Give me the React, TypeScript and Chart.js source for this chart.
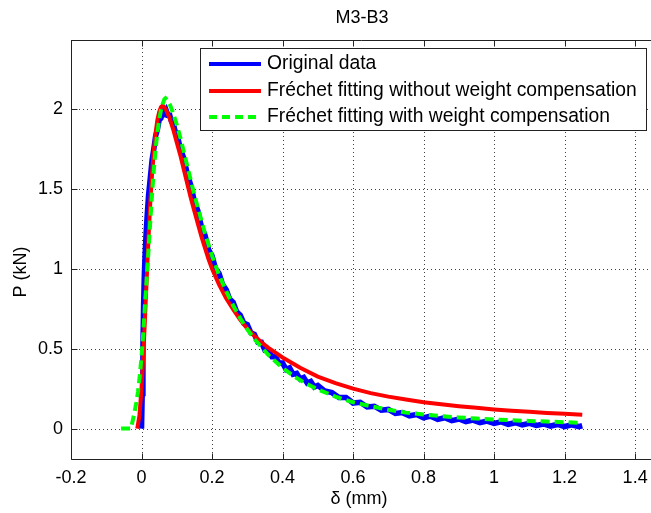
import React, { useEffect, useRef } from "react";
import { Chart, registerables } from "chart.js";

Chart.register(...registerables);

const chartTitle = "M3-B3";
const xAxisLabel = "δ (mm)";
const yAxisLabel = "P (kN)";
const xTickValues = [-0.2, 0, 0.2, 0.4, 0.6, 0.8, 1, 1.2, 1.4];
const yTickValues = [0, 0.5, 1, 1.5, 2];
const legendLabels = [
  "Original data",
  "Fréchet fitting without weight compensation",
  "Fréchet fitting with weight compensation",
];

// Original data (noisy measurement)
const blueX = [
  0.0, 0.002, 0.004, 0.006, 0.008, 0.01, 0.013, 0.016, 0.02, 0.025, 0.03, 0.035, 0.04, 0.045, 0.05,
  0.055, 0.06, 0.065, 0.07, 0.075, 0.08, 0.085, 0.09, 0.095, 0.1, 0.11, 0.12, 0.13, 0.14, 0.15,
  0.16, 0.17, 0.18, 0.19, 0.2, 0.21, 0.22, 0.23, 0.24, 0.25, 0.26, 0.27, 0.28, 0.29, 0.3,
  0.31, 0.32, 0.33, 0.34, 0.35, 0.36, 0.37, 0.38, 0.39, 0.4, 0.41, 0.42, 0.43, 0.44, 0.45,
  0.46, 0.47, 0.48, 0.49, 0.5, 0.52, 0.54, 0.56, 0.58, 0.6, 0.62, 0.64, 0.66, 0.68, 0.7,
  0.72, 0.74, 0.76, 0.78, 0.8, 0.82, 0.84, 0.86, 0.88, 0.9, 0.92, 0.94, 0.96, 0.98, 1.0,
  1.02, 1.04, 1.06, 1.08, 1.1, 1.12, 1.14, 1.16, 1.18, 1.2, 1.22, 1.24, 1.25,
];
const blueY = [
  0.0, 0.22, 0.52, 0.78, 0.96, 1.08, 1.22, 1.33, 1.46, 1.57, 1.68, 1.75, 1.83, 1.87, 1.93,
  1.94, 1.98, 1.97, 1.99, 1.96, 1.96, 1.92, 1.91, 1.86, 1.85, 1.75, 1.69, 1.59, 1.52, 1.42,
  1.36, 1.26, 1.21, 1.12, 1.08, 1.0, 0.97, 0.9, 0.87, 0.81, 0.79, 0.73, 0.71, 0.66, 0.65,
  0.6, 0.59, 0.54, 0.54, 0.49, 0.49, 0.45, 0.45, 0.41, 0.41, 0.37, 0.38, 0.34, 0.345, 0.31,
  0.32, 0.285, 0.295, 0.26, 0.27, 0.235, 0.225, 0.195, 0.195, 0.16, 0.165, 0.135, 0.14, 0.115, 0.12,
  0.095, 0.1, 0.08, 0.088, 0.068, 0.078, 0.058, 0.068, 0.05, 0.06, 0.043, 0.053, 0.037, 0.047, 0.032,
  0.042, 0.027, 0.037, 0.023, 0.033, 0.02, 0.029, 0.016, 0.026, 0.013, 0.023, 0.012, 0.018,
];

// Fréchet fitting without weight compensation
const redX = [
  -0.012, -0.006, 0.0, 0.005, 0.01, 0.015, 0.02, 0.025, 0.03, 0.035, 0.04, 0.045, 0.05, 0.055, 0.06,
  0.065, 0.07, 0.08, 0.09, 0.1, 0.11, 0.12, 0.13, 0.14, 0.15, 0.16, 0.17, 0.18, 0.19, 0.2,
  0.22, 0.24, 0.26, 0.28, 0.3, 0.32, 0.34, 0.36, 0.38, 0.4, 0.45, 0.5, 0.55, 0.6, 0.65,
  0.7, 0.75, 0.8, 0.85, 0.9, 0.95, 1.0, 1.05, 1.1, 1.15, 1.2, 1.25,
];
const redY = [
  0.0, 0.08, 0.25, 0.45, 0.7, 0.95, 1.2, 1.42, 1.6, 1.74, 1.85, 1.93, 1.98, 2.01, 2.02,
  2.01, 1.99, 1.94, 1.87, 1.79, 1.71, 1.62, 1.53, 1.44, 1.36, 1.28, 1.2, 1.13, 1.06, 1.0,
  0.9, 0.815, 0.745, 0.68, 0.625, 0.58, 0.54, 0.505, 0.475, 0.445, 0.38, 0.325, 0.285, 0.25, 0.222,
  0.2, 0.182, 0.165, 0.152, 0.14, 0.13, 0.12, 0.112, 0.105, 0.098, 0.093, 0.087,
];

// Fréchet fitting with weight compensation
const greenX = [
  -0.058, -0.03, -0.025, -0.02, -0.015, -0.01, -0.005, 0.0, 0.005, 0.01, 0.015, 0.02, 0.025, 0.03, 0.035,
  0.04, 0.045, 0.05, 0.055, 0.06, 0.065, 0.068, 0.075, 0.08, 0.09, 0.1, 0.11, 0.12, 0.13, 0.14,
  0.15, 0.16, 0.17, 0.18, 0.19, 0.2, 0.21, 0.22, 0.24, 0.26, 0.28, 0.3, 0.32, 0.34, 0.36,
  0.38, 0.4, 0.43, 0.46, 0.5, 0.55, 0.6, 0.65, 0.7, 0.75, 0.8, 0.85, 0.9, 0.95, 1.0,
  1.05, 1.1, 1.15, 1.2, 1.25,
];
const greenY = [
  0.0, 0.0, 0.05, 0.1, 0.16, 0.23, 0.33, 0.45, 0.6, 0.78, 0.95, 1.12, 1.3, 1.47, 1.62,
  1.75, 1.85, 1.93, 1.99, 2.03, 2.06, 2.066, 2.05, 2.03, 1.97, 1.9, 1.82, 1.73, 1.64, 1.55,
  1.46, 1.38, 1.3, 1.22, 1.15, 1.08, 1.02, 0.96, 0.86, 0.77, 0.69, 0.62, 0.56, 0.51, 0.46,
  0.42, 0.38, 0.33, 0.29, 0.245, 0.2, 0.165, 0.14, 0.118, 0.1, 0.088, 0.078, 0.07, 0.063, 0.057,
  0.052, 0.048, 0.044, 0.04, 0.036,
];

const FONT = '"Liberation Sans", Arial, Helvetica, sans-serif';
const CANVAS_W = 651;
const CANVAS_H = 513;

export default function App() {
  const ref = useRef<HTMLCanvasElement>(null);

  useEffect(() => {
    const canvas = ref.current;
    if (!canvas) return;
    const pts = (xs: number[], ys: number[]) => xs.map((x, i) => ({ x, y: ys[i] }));

    const decor = {
      id: "decor",
      beforeDatasetsDraw(chart: any) {
        const { ctx, chartArea: a, scales } = chart;
        const xs = scales.x;
        const ys = scales.y;
        ctx.save();
        ctx.strokeStyle = "rgba(0,0,0,0.75)";
        ctx.lineWidth = 1;
        ctx.setLineDash([1, 3]);
        for (const v of xTickValues) {
          const px = Math.round(xs.getPixelForValue(v)) + 0.5;
          ctx.beginPath();
          ctx.moveTo(px, a.top);
          ctx.lineTo(px, a.bottom);
          ctx.stroke();
        }
        for (const v of yTickValues) {
          const py = Math.round(ys.getPixelForValue(v)) + 0.5;
          ctx.beginPath();
          ctx.moveTo(a.left, py);
          ctx.lineTo(CANVAS_W, py);
          ctx.stroke();
        }
        ctx.restore();
      },
      afterDraw(chart: any) {
        const { ctx, chartArea: a, scales } = chart;
        const xs = scales.x;
        const ys = scales.y;
        ctx.save();
        // frame (right edge lies beyond the visible area)
        ctx.strokeStyle = "#222";
        ctx.lineWidth = 1;
        ctx.setLineDash([]);
        const L = Math.round(a.left) + 0.5;
        const T = Math.round(a.top) + 0.5;
        const B = Math.round(a.bottom) + 0.5;
        ctx.beginPath();
        ctx.moveTo(CANVAS_W, T);
        ctx.lineTo(L, T);
        ctx.lineTo(L, B);
        ctx.lineTo(CANVAS_W, B);
        ctx.stroke();
        // inward ticks
        const tl = 6;
        ctx.beginPath();
        for (const v of xTickValues) {
          const px = Math.round(xs.getPixelForValue(v)) + 0.5;
          ctx.moveTo(px, B);
          ctx.lineTo(px, B - tl);
          ctx.moveTo(px, T);
          ctx.lineTo(px, T + tl);
        }
        for (const v of yTickValues) {
          const py = Math.round(ys.getPixelForValue(v)) + 0.5;
          ctx.moveTo(L, py);
          ctx.lineTo(L + tl, py);
        }
        ctx.stroke();

        // titles
        ctx.fillStyle = "#000";
        ctx.font = `18px ${FONT}`;
        ctx.textAlign = "center";
        ctx.textBaseline = "middle";
        ctx.fillText(chartTitle, 362, 18);
        ctx.fillText(xAxisLabel, 359, 499);
        ctx.save();
        ctx.translate(21, 272);
        ctx.rotate(-Math.PI / 2);
        ctx.fillText(yAxisLabel, 0, 0);
        ctx.restore();

        // legend
        const lx = 200.5, ly = 48.5, lw = 446, lh = 82;
        ctx.fillStyle = "#fff";
        ctx.fillRect(lx, ly, lw, lh);
        ctx.strokeStyle = "#222";
        ctx.lineWidth = 1;
        ctx.strokeRect(lx, ly, lw, lh);
        const rows = [64, 91, 117];
        const colors = ["#0000ff", "#ff0000", "#00ff00"];
        rows.forEach((ry, i) => {
          ctx.strokeStyle = colors[i];
          ctx.lineWidth = 4;
          ctx.setLineDash(i === 2 ? [8, 5] : []);
          ctx.beginPath();
          ctx.moveTo(209, ry);
          ctx.lineTo(261, ry);
          ctx.stroke();
          ctx.setLineDash([]);
          ctx.fillStyle = "#000";
          ctx.font = `19.3px ${FONT}`;
          ctx.textAlign = "left";
          ctx.textBaseline = "middle";
          ctx.fillText(legendLabels[i], 267, ry);
        });
        ctx.restore();
      },
    };

    const chart = new Chart(canvas, {
      type: "scatter",
      data: {
        datasets: [
          {
            label: legendLabels[0],
            data: pts(blueX, blueY),
            borderColor: "#0000ff",
            backgroundColor: "#0000ff",
            borderWidth: 5.5,
            showLine: true,
            pointRadius: 0,
            tension: 0,
            order: 2,
          },
          {
            label: legendLabels[1],
            data: pts(redX, redY),
            borderColor: "#ff0000",
            backgroundColor: "#ff0000",
            borderWidth: 4,
            showLine: true,
            pointRadius: 0,
            tension: 0,
            order: 1,
          },
          {
            label: legendLabels[2],
            data: pts(greenX, greenY),
            borderColor: "#00ff00",
            backgroundColor: "#00ff00",
            borderWidth: 4,
            borderDash: [9, 5],
            showLine: true,
            pointRadius: 0,
            tension: 0,
            order: 0,
          },
        ],
      },
      options: {
        animation: false,
        responsive: false,
        devicePixelRatio: 1,
        layout: { padding: { top: 40, right: 0, left: 0, bottom: 0 } },
        plugins: {
          legend: { display: false },
          title: { display: false },
          tooltip: { enabled: false },
        },
        scales: {
          x: {
            type: "linear",
            min: -0.2,
            max: 1.445,
            afterBuildTicks: (s: any) => {
              s.ticks = xTickValues.map((v) => ({ value: v }));
            },
            afterFit: (s: any) => {
              s.height = 54;
              s.paddingLeft = 0;
              s.paddingRight = 0;
              s.paddingTop = 0;
              s.paddingBottom = 0;
            },
            grid: { display: false, drawTicks: false },
            border: { display: false },
            ticks: {
              font: { family: FONT, size: 18 },
              color: "#000",
              padding: 8,
              maxRotation: 0,
              autoSkip: false,
              callback: (v: any) => String(v),
            },
          },
          y: {
            type: "linear",
            min: -0.19,
            max: 2.43,
            afterBuildTicks: (s: any) => {
              s.ticks = yTickValues.map((v) => ({ value: v }));
            },
            afterFit: (s: any) => {
              s.width = 71;
              s.paddingLeft = 0;
              s.paddingRight = 0;
              s.paddingTop = 0;
              s.paddingBottom = 0;
            },
            grid: { display: false, drawTicks: false },
            border: { display: false },
            ticks: {
              font: { family: FONT, size: 18 },
              color: "#000",
              padding: 8,
              autoSkip: false,
              callback: (v: any) => String(v),
            },
          },
        },
      },
      plugins: [decor],
    } as any);

    return () => chart.destroy();
  }, []);

  return (
    <div style={{ position: "absolute", left: 0, top: 0, width: CANVAS_W, height: CANVAS_H, background: "#fff" }}>
      <canvas ref={ref} width={CANVAS_W} height={CANVAS_H} style={{ width: CANVAS_W, height: CANVAS_H, display: "block" }} />
    </div>
  );
}
